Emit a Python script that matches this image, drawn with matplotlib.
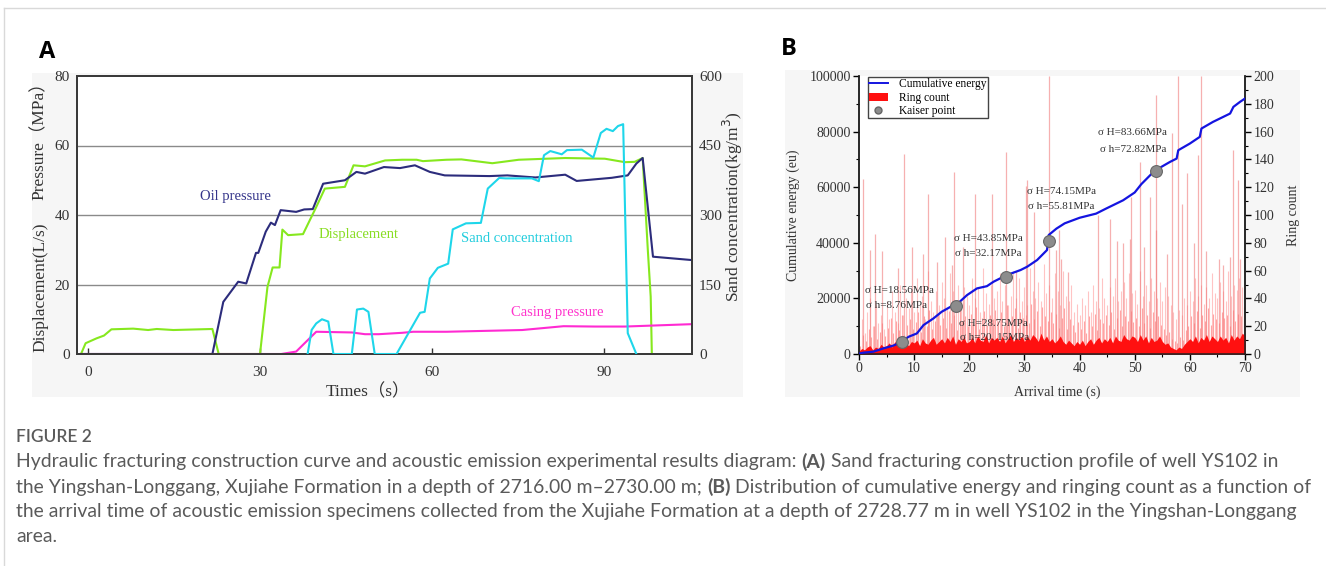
import matplotlib
matplotlib.use("Agg")
import matplotlib.pyplot as plt
import numpy as np
from matplotlib.lines import Line2D
from matplotlib.patches import Rectangle, Patch
from matplotlib.ticker import MultipleLocator

# ---------------- Panel A data ----------------
oil_t = [-1.2, 21.7, 23.6, 26.2, 27.6, 29.3, 29.7, 31.0, 31.9, 32.6, 33.6, 36.3, 37.7, 39.2, 41.0,
         44.8, 46.8, 48.3, 51.6, 54.4, 57.0, 59.6, 62.2, 70.0, 73.1, 78.0, 83.2, 85.2, 91.3, 94.1,
         95.6, 96.7, 98.5, 105.5]
oil_p = [0, 0, 15.0, 20.8, 20.3, 29.1, 29.1, 35.2, 37.8, 37.1, 41.4, 40.9, 41.6, 41.7, 49.0,
         50.0, 52.4, 51.9, 53.8, 53.5, 54.3, 52.4, 51.4, 51.2, 51.4, 50.8, 51.6, 49.8, 50.7, 51.4,
         54.8, 56.4, 28.0, 27.0]

disp_t = [-1.2, -0.4, 1.5, 2.8, 4.1, 7.9, 10.5, 12.0, 14.9, 21.7, 22.8, 30.0, 31.3, 32.2, 33.4,
          33.9, 34.9, 37.5, 39.8, 41.3, 44.8, 46.3, 48.3, 51.8, 54.8, 57.3, 58.4, 62.5, 65.1,
          70.5, 75.1, 83.2, 90.1, 93.6, 95.3, 96.7, 97.6, 98.1, 98.3]
disp_v = [0, 3.1, 4.5, 5.3, 7.1, 7.3, 6.9, 7.2, 6.9, 7.2, 0, 0, 19.3, 24.9, 24.9,
          35.8, 34.2, 34.5, 42.3, 47.6, 48.1, 54.3, 54.0, 55.7, 55.9, 55.9, 55.5, 55.9, 56.0,
          54.9, 55.9, 56.4, 56.2, 55.2, 55.3, 56.4, 29.9, 16.5, 0]

sand_t = [38.3, 39.0, 39.8, 40.8, 41.9, 42.8, 46.0, 46.9, 48.0, 48.9, 50.0, 53.8, 57.9, 58.7,
          59.6, 61.0, 62.8, 63.6, 65.9, 68.5, 69.7, 71.7, 72.8, 77.4, 78.6, 79.5, 80.6, 82.6,
          83.5, 86.1, 88.1, 89.4, 90.4, 91.5, 92.4, 93.3, 94.1, 95.6]
sand_c = [0, 52, 66, 75, 70, 0, 0, 96, 98, 91, 0, 0, 89, 91,
          163, 186, 195, 269, 282, 283, 357, 380, 379, 379, 373, 429, 438, 431,
          440, 441, 424, 477, 486, 481, 492, 496, 45, 0]

casing_t = [-1.2, 33.7, 36.3, 39.8, 46.0, 48.3, 50.7, 54.8, 56.7, 62.5, 75.7, 82.9, 88.4, 93.6, 105.5]
casing_p = [0, 0, 0.7, 6.4, 6.2, 5.7, 5.7, 6.1, 6.4, 6.4, 6.9, 8.0, 7.9, 7.9, 8.6]

a_xticks = [0, 30, 60, 90]
a_left_ticks = [0, 20, 40, 60, 80]
a_right_ticks = [0, 150, 300, 450, 600]

# ---------------- Panel B data ----------------
energy_t = [0.2, 0.8, 2.6, 4.4, 6.2, 7.8, 9.0, 10.5, 11.7, 13.5, 15.0, 16.8, 17.6, 19.6, 21.4,
            23.2, 24.4, 26.8, 29.3, 30.5, 32.3, 33.8, 34.1, 34.4, 35.8, 37.3, 40.0, 43.0, 44.8,
            47.9, 50.0, 51.2, 53.6, 56.4, 57.6, 57.9, 60.0, 61.8, 62.1, 64.2, 67.3, 67.9, 69.1, 70.0]
energy_e = [240, 480, 840, 2000, 3000, 4400, 6200, 7400, 10400, 12800, 15200, 17200, 17600, 21200, 23600,
            24400, 26000, 28400, 30200, 31400, 33800, 36800, 37400, 42800, 45100, 47000, 49000, 50500, 52300,
            55300, 58100, 61100, 65900, 69100, 70300, 73300, 75700, 78100, 81100, 83500, 86500, 88900, 90700, 91900]

kaiser_t = [7.8, 17.6, 26.7, 34.4, 53.8]
kaiser_e = [4400, 17300, 27600, 40700, 65900]

spike_t = [0.8, 2.0, 2.9, 4.1, 7.1, 8.2, 9.6, 11.6, 12.5, 14.1, 15.6, 16.8, 17.3, 18.8, 21.1, 24.1,
           26.7, 28.4, 30.2, 30.4, 31.7, 34.4, 35.8, 36.2, 36.7, 37.9, 43.3, 45.5, 46.7, 47.9, 49.1,
           49.4, 50.9, 51.6, 52.7, 53.8, 53.9, 55.8, 56.7, 57.9, 58.5, 59.4, 60.7, 61.5, 62.1, 63.0,
           65.2, 66.1, 67.3, 67.8, 68.8, 69.1]
spike_h = [126, 75, 86, 74, 62, 144, 77, 72, 115, 66, 84, 64, 131, 77, 115, 115,
           145, 60, 121, 125, 102, 200, 75, 89, 68, 59, 100, 97, 81, 80, 83,
           113, 138, 77, 113, 186, 89, 72, 159, 200, 108, 130, 80, 143, 200, 74,
           68, 64, 70, 147, 125, 68]

# mid-level ring counts every 0.5 s (0 ... 70 s)
ring_mid = [10, 25, 15, 30, 40, 20, 35, 22, 28, 18,
            38, 25, 45, 30, 22, 50, 28, 40, 33, 45,
            30, 55, 35, 42, 25, 60, 38, 30, 45, 35,
            52, 40, 33, 58, 45, 30, 50, 38, 48, 42,
            35, 55, 40, 48, 30, 62, 44, 36, 50, 40,
            45, 58, 38, 50, 35, 42, 60, 40, 55, 38,
            48, 35, 62, 45, 40, 52, 38, 65, 44, 50,
            40, 58, 45, 35, 60, 42, 38, 50, 30, 36,
            28, 40, 35, 45, 30, 50, 38, 33, 55, 40,
            35, 48, 42, 55, 38, 45, 52, 40, 58, 44,
            46, 36, 60, 42, 50, 38, 55, 45, 40, 52,
            38, 48, 42, 35, 30, 25, 32, 28, 40, 35,
            45, 38, 55, 42, 50, 36, 48, 40, 58, 44,
            40, 52, 45, 38, 60, 42, 50, 46, 55, 48, 35]
# lower-level ring counts every 0.5 s (0 ... 70 s)
ring_low = [6, 14, 9, 18, 12, 20, 11, 16, 22, 13,
            19, 26, 15, 24, 17, 28, 14, 21, 25, 18,
            23, 30, 16, 27, 20, 32, 18, 24, 29, 21,
            26, 19, 31, 22, 28, 17, 33, 24, 27, 20,
            29, 22, 34, 18, 26, 31, 21, 28, 25, 32,
            24, 30, 20, 35, 23, 27, 33, 19, 30, 26,
            28, 22, 36, 25, 31, 20, 34, 27, 24, 30,
            22, 29, 19, 26, 33, 18, 25, 21, 16, 23,
            18, 24, 15, 27, 20, 29, 17, 25, 22, 28,
            21, 30, 18, 26, 32, 20, 27, 24, 31, 23,
            26, 20, 33, 22, 28, 19, 30, 24, 27, 21,
            18, 14, 16, 11, 9, 8, 12, 10, 17, 20,
            27, 22, 31, 19, 28, 24, 33, 21, 29, 25,
            22, 30, 26, 28, 20, 32, 24, 29, 27, 34, 30]
# dense base ring counts every 0.5 s (0 ... 70 s)
ring_base = [2, 4, 3, 5, 6, 3, 5, 4, 7, 5,
             6, 8, 5, 9, 6, 10, 6, 8, 6, 9,
             8, 10, 6, 11, 8, 7, 10, 12, 7, 9,
             11, 8, 12, 9, 13, 7, 11, 9, 12, 8,
             9, 12, 8, 13, 10, 9, 14, 8, 12, 10,
             12, 9, 13, 8, 11, 14, 9, 12, 10, 13,
             9, 13, 10, 14, 12, 9, 15, 10, 13, 9,
             11, 8, 10, 13, 9, 7, 10, 8, 6, 9,
             7, 10, 6, 9, 11, 7, 10, 12, 8, 11,
             9, 12, 8, 13, 10, 9, 14, 11, 10, 13,
             12, 9, 14, 10, 13, 8, 12, 9, 10, 13,
             9, 7, 8, 5, 4, 3, 5, 4, 7, 9,
             11, 9, 13, 8, 12, 10, 14, 9, 13, 11,
             9, 13, 10, 12, 8, 14, 10, 13, 11, 15, 13]
ring_step_t = [i * 0.5 for i in range(len(ring_base))]

notes = ["σ H=18.56MPa", "σ h=8.76MPa", "σ H=28.75MPa", "σ h=20. 15MPa",
         "σ H=43.85MPa", "σ h=32.17MPa", "σ H=74.15MPa", "σ h=55.81MPa",
         "σ H=83.66MPa", "σ h=72.82MPa"]
notes_t = [1.1, 1.3, 18.1, 18.3, 17.2, 17.4, 30.5, 30.6, 43.3, 43.7]
notes_e = [23000, 17600, 11150, 6100, 41400, 36000, 58600, 53200, 79500, 73700]

# ---------------- figure ----------------
W, H = 1326, 566
fig = plt.figure(figsize=(W / 100, H / 100), dpi=100)
fig.patch.set_facecolor("white")


def fx(px):
    return px / W


def fy(py):
    return 1 - py / H


SERIF = ["Liberation Serif", "DejaVu Serif", "Noto Sans CJK SC"]
TXT = "#333333"

# card border
fig.add_artist(Line2D([fx(4), 1], [fy(8), fy(8)], color="#d9d9d9", lw=1))
fig.add_artist(Line2D([fx(4), fx(4)], [fy(8), 0], color="#d9d9d9", lw=1))

# light grey image backgrounds
fig.add_artist(Rectangle((fx(32), fy(397)), (743 - 32) / W, (397 - 73) / H,
                         facecolor="#f6f6f6", edgecolor="none", zorder=0))
fig.add_artist(Rectangle((fx(785), fy(397)), (1300 - 785) / W, (397 - 70) / H,
                         facecolor="#f6f6f6", edgecolor="none", zorder=0))

# ================= Panel A =================
axA = fig.add_axes([fx(77), fy(354), (692 - 77) / W, (354 - 76) / H])
axA.set_facecolor("white")
axA.set_xlim(-1.9, 105.3)
axA.set_ylim(0, 80)
axA2 = axA.twinx()
axA2.set_ylim(0, 600)

for y in [20, 40, 60]:
    axA.axhline(y, color="#8a8a8a", lw=1.0, zorder=1)

lw = 1.5
axA.plot(disp_t, disp_v, color="#86e81e", lw=lw, zorder=3)
axA.plot(oil_t, oil_p, color="#2c2c7c", lw=lw, zorder=4)
axA.plot(casing_t, casing_p, color="#ff2ad2", lw=lw, zorder=3)
axA2.plot(sand_t, sand_c, color="#1ed6ea", lw=lw, zorder=3)

axA.set_xticks(a_xticks)
axA.set_yticks(a_left_ticks)
axA2.set_yticks(a_right_ticks)
axA.tick_params(axis="x", direction="in", length=4, width=1, pad=9, labelsize=11,
                labelcolor=TXT, color="#333333")
axA.tick_params(axis="y", length=0, pad=5, labelsize=11, labelcolor=TXT)
axA2.tick_params(axis="y", length=0, pad=5, labelsize=11, labelcolor=TXT)
for ax in (axA, axA2):
    for lab in ax.get_xticklabels() + ax.get_yticklabels():
        lab.set_family(SERIF)
    for s in ax.spines.values():
        s.set_color("#3a3a3a")
        s.set_linewidth(1.4)

axA.text(25.8, 45.2, "Oil pressure", color="#34348a", fontsize=10.5, family=SERIF,
         ha="center", va="center")
axA.text(47.1, 34.5, "Displacement", color="#88dd22", fontsize=10.5, family=SERIF,
         ha="center", va="center")
axA.text(74.8, 33.1, "Sand concentration", color="#22cddd", fontsize=10.5, family=SERIF,
         ha="center", va="center")
axA.text(81.8, 11.8, "Casing pressure", color="#ff33cc", fontsize=10.5, family=SERIF,
         ha="center", va="center")

fig.text(fx(40), fy(137), "Pressure（MPa）", rotation=90, ha="center", va="center",
         fontsize=12.5, family=SERIF, color=TXT)
fig.text(fx(40), fy(287), "Displacement(L/s)", rotation=90, ha="center", va="center",
         fontsize=12.5, family=SERIF, color=TXT)
fig.text(fx(733), fy(207), "Sand concentration(kg/m$^3$)", rotation=90, ha="center",
         va="center", fontsize=12.5, family=SERIF, color=TXT)
fig.text(fx(368), fy(392), "Times（s）", ha="center", va="center", fontsize=12.5,
         family=SERIF, color=TXT)
fig.text(fx(39), fy(52), "A", ha="left", va="center", fontsize=17, fontweight="bold",
         family=["Open Sans", "DejaVu Sans"], color="black")

# ================= Panel B =================
axB2 = fig.add_axes([fx(859), fy(354), (1245 - 859) / W, (354 - 76) / H])
axB = axB2.twinx()
axB.yaxis.tick_left()
axB.yaxis.set_label_position("left")
axB2.yaxis.tick_right()
axB2.yaxis.set_label_position("right")
axB.set_zorder(axB2.get_zorder() + 1)
axB.patch.set_visible(False)
axB2.set_facecolor("white")

axB2.set_xlim(0, 70)
axB2.set_ylim(0, 200)
axB.set_ylim(0, 100000)

axB2.vlines(ring_step_t, 0, ring_mid, color="#ff8a8a", lw=0.8, alpha=0.5, zorder=2)
axB2.vlines([t + 0.25 for t in ring_step_t], 0, ring_low, color="#ff6a6a", lw=0.8,
            alpha=0.6, zorder=2)
axB2.vlines(spike_t, 0, spike_h, color="#f07c7c", lw=0.9, alpha=0.6, zorder=2)
axB2.fill_between(ring_step_t, 0, ring_base, color="#ff1010", lw=0, zorder=3)

axB.plot(energy_t, energy_e, color="#1414e0", lw=1.6, zorder=4)
axB.plot(kaiser_t, kaiser_e, "o", color="#8c8c8c", mec="#666666", mew=0.8, ms=8.5, zorder=5)

for t, e, s in zip(notes_t, notes_e, notes):
    axB.text(t, e, s, fontsize=8, family=SERIF, color=TXT, ha="left", va="center", zorder=6)

axB.yaxis.set_major_locator(MultipleLocator(20000))
axB.yaxis.set_minor_locator(MultipleLocator(10000))
axB2.yaxis.set_major_locator(MultipleLocator(20))
axB2.yaxis.set_minor_locator(MultipleLocator(10))
axB2.xaxis.set_major_locator(MultipleLocator(10))
axB2.xaxis.set_minor_locator(MultipleLocator(5))

for ax in (axB, axB2):
    ax.tick_params(which="major", direction="out", length=4, width=1, labelsize=10,
                   labelcolor=TXT, pad=2)
    ax.tick_params(which="minor", direction="out", length=2, width=0.8)
    for lab in ax.get_xticklabels() + ax.get_yticklabels():
        lab.set_family(SERIF)
    ax.spines["top"].set_visible(False)
    for k in ("left", "right", "bottom"):
        ax.spines[k].set_color("#222222")
        ax.spines[k].set_linewidth(1.1)
axB.tick_params(axis="x", which="both", bottom=False, labelbottom=False)

leg_handles = [Line2D([0], [0], color="#1414e0", lw=1.4),
               Patch(facecolor="#ff1010", edgecolor="none"),
               Line2D([0], [0], marker="o", color="none", markerfacecolor="#8c8c8c",
                      markeredgecolor="#666666", markersize=5)]
leg = axB.legend(leg_handles, ["Cumulative energy", "Ring count", "Kaiser point"],
                 loc="upper left", bbox_to_anchor=(0.023, 0.997),
                 prop={"family": SERIF, "size": 8.3}, frameon=True, fancybox=False,
                 edgecolor="#444444", framealpha=1, borderpad=0.12, labelspacing=0.12,
                 handlelength=1.6, handletextpad=0.95, borderaxespad=0)
leg.get_frame().set_linewidth(1.0)

fig.text(fx(793), fy(215), "Cumulative energy (eu)", rotation=90, ha="center", va="center",
         fontsize=10, family=SERIF, color=TXT)
fig.text(fx(1293), fy(215), "Ring count", rotation=90, ha="center", va="center",
         fontsize=10, family=SERIF, color=TXT)
fig.text(fx(1057), fy(392), "Arrival time (s)", ha="center", va="center",
         fontsize=10, family=SERIF, color=TXT)
fig.text(fx(781), fy(49), "B", ha="left", va="center", fontsize=17, fontweight="bold",
         family=["Open Sans", "DejaVu Sans"], color="black")

# ================= Caption =================
CAP = ["Lato", "DejaVu Sans"]
CAPC = "#5a5a5a"
fig.text(fx(16), fy(437), "FIGURE 2", ha="left", va="center", fontsize=12.5,
         fontweight="semibold", family=CAP, color=CAPC)

cap_lines = [
    [("Hydraulic fracturing construction curve and acoustic emission experimental results diagram: ", "normal"),
     ("(A)", "bold"), (" Sand fracturing construction profile of well YS102 in", "normal")],
    [("the Yingshan-Longgang, Xujiahe Formation in a depth of 2716.00 m\u20132730.00 m; ", "normal"),
     ("(B)", "bold"), (" Distribution of cumulative energy and ringing count as a function of", "normal")],
    [("the arrival time of acoustic emission specimens collected from the Xujiahe Formation at a depth of 2728.77 m in well YS102 in the Yingshan-Longgang", "normal")],
    [("area.", "normal")],
]
cap_y = [462, 487, 512, 536]

renderer = fig.canvas.get_renderer()
w10 = 0
for txt, wt in cap_lines[1]:
    probe = fig.text(0, 0, txt, fontsize=10, fontweight=wt, family=CAP)
    w10 += probe.get_window_extent(renderer).width
    probe.remove()
cap_size = 10 * (1292 / w10)

for segs, yy in zip(cap_lines, cap_y):
    x = 16
    for txt, wt in segs:
        t = fig.text(fx(x), fy(yy), txt, ha="left", va="center", fontsize=cap_size,
                     fontweight=wt, family=CAP, color=CAPC)
        x += t.get_window_extent(renderer).width

fig.savefig("out.png", dpi=100, facecolor="white")
